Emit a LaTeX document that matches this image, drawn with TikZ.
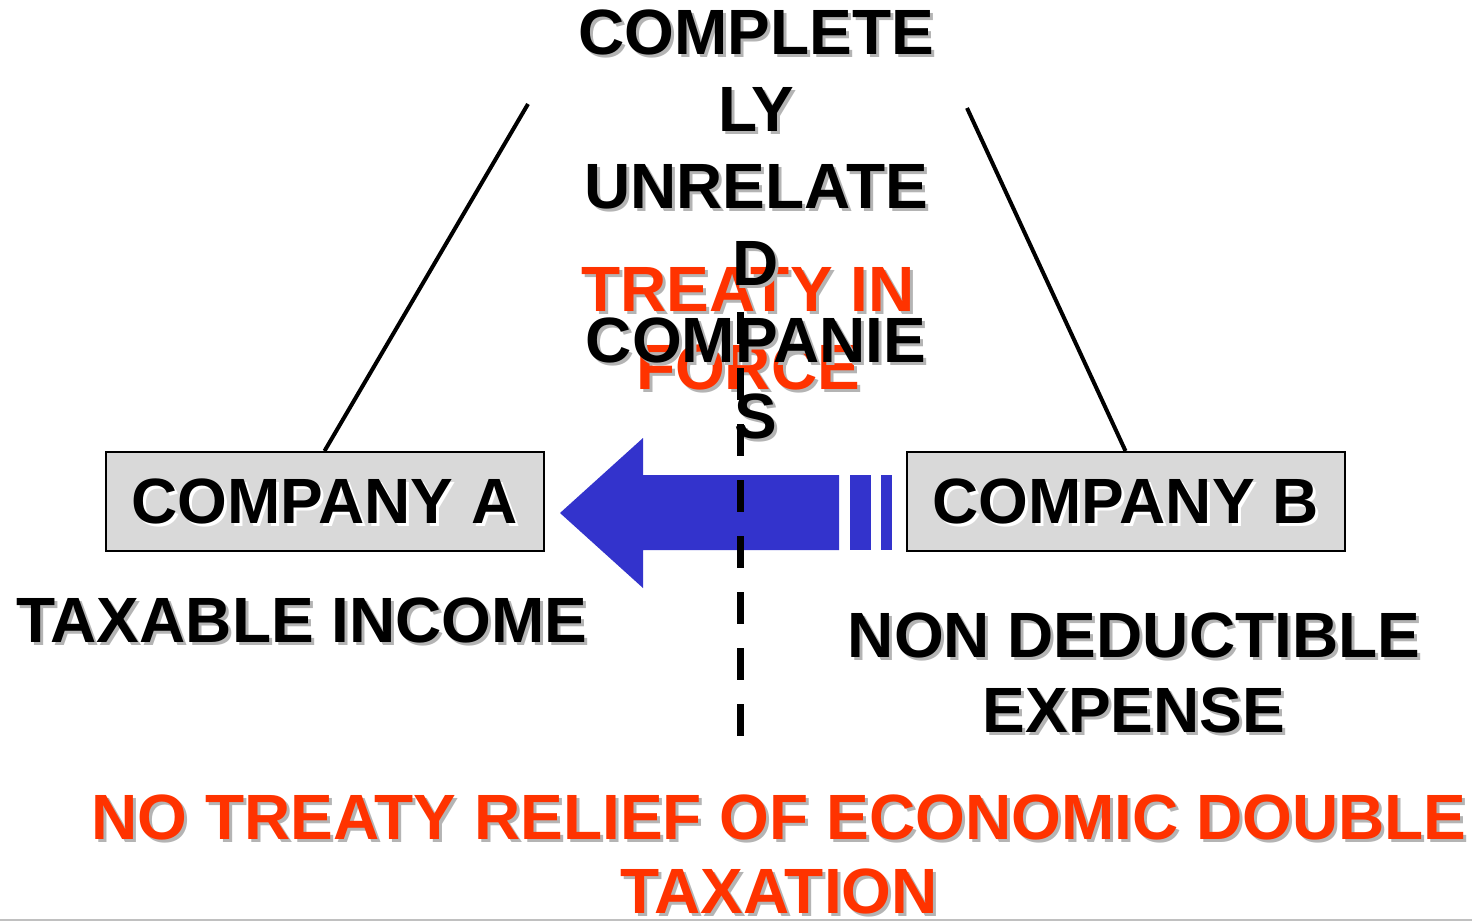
\documentclass[tikz,border=0pt]{standalone}
\usepackage{fontspec}
\setmainfont{Liberation Sans}
\usetikzlibrary{calc}

\definecolor{treatyred}{HTML}{FF3300}
\definecolor{flowblue}{HTML}{3333CC}
\definecolor{boxgray}{HTML}{D9D9D9}
\definecolor{dropgray}{HTML}{B4B4B4}
\definecolor{rulegray}{HTML}{C0C0C0}

\tikzset{
  bigtext/.style={font=\bfseries\fontsize{64}{#1}\selectfont, inner sep=0pt, align=center},
  bigtext/.default=76.8,
  companybox/.style={draw=black, line width=2pt, fill=boxgray,
    minimum width=438pt, minimum height=99pt, inner sep=0pt},
  tieline/.style={line width=4pt, line cap=butt},
  flow/.style={fill=flowblue, draw=none},
  border/.style={dash pattern=on 32pt off 24pt, line width=7pt},
}

% text with a drop shadow: name, position, anchor, line skip, text colour, shadow colour, text
\newcommand\dropnode[7]{%
  \node[bigtext=#4, anchor=#3, text=#6] at ($#2+(3,3)$) {#7};
  \node[bigtext=#4, anchor=#3, text=#5] (#1) at #2 {#7};
}

\begin{document}
\begin{tikzpicture}[x=1pt, y=-1pt]
  \useasboundingbox (0,0) rectangle (1472,921);

  % the two companies
  \node[companybox] (boxA) at (324.5,501.5) {};
  \node[companybox] (boxB) at (1125.5,501.5) {};

  % lines from the heading down to each company
  \coordinate (topL) at (528,104);
  \coordinate (topR) at (967,108);
  \draw[tieline] (topL) -- (boxA.north);
  \draw[tieline] (topR) -- (boxB.north);

  \dropnode{labA}{(boxA.center)}{center}{76.8}{black}{white}{COMPANY A}
  \dropnode{labB}{(boxB.center)}{center}{76.8}{black}{white}{COMPANY B}

  % payment flowing from B to A
  \fill[flow] (560,513) -- (643,438) -- (643,475) -- (839,475) -- (839,550)
              -- (643,550) -- (643,588) -- cycle;
  \fill[flow] (850,475) rectangle (871,550);
  \fill[flow] (881,475) rectangle (892,550);

  % headings
  \dropnode{treaty}{(748,267)}{north}{78}{treatyred}{dropgray}{TREATY IN\\FORCE}
  \dropnode{unrel}{(756,10)}{north}{76.8}{black}{dropgray}{COMPLETE\\LY\\UNRELATE\\D\\COMPANIE\\S}

  % border between the two states
  \coordinate (bordTop) at (740.5,312);
  \coordinate (bordBot) at (740.5,736);
  \draw[border] (bordTop) -- (bordBot);

  % tax consequences
  \dropnode{income}{(302,598)}{north}{76.8}{black}{dropgray}{TAXABLE INCOME}
  \dropnode{expense}{(1134,613)}{north}{75}{black}{dropgray}{NON DEDUCTIBLE\\EXPENSE}
  \dropnode{relief}{(779,795)}{north}{74}{treatyred}{dropgray}{NO TREATY RELIEF OF ECONOMIC DOUBLE\\TAXATION}

  % rule along the bottom edge
  \coordinate (ruleL) at (0,920);
  \coordinate (ruleR) at (1472,920);
  \draw[rulegray, line width=1.5pt] (ruleL) -- (ruleR);
\end{tikzpicture}
\end{document}
